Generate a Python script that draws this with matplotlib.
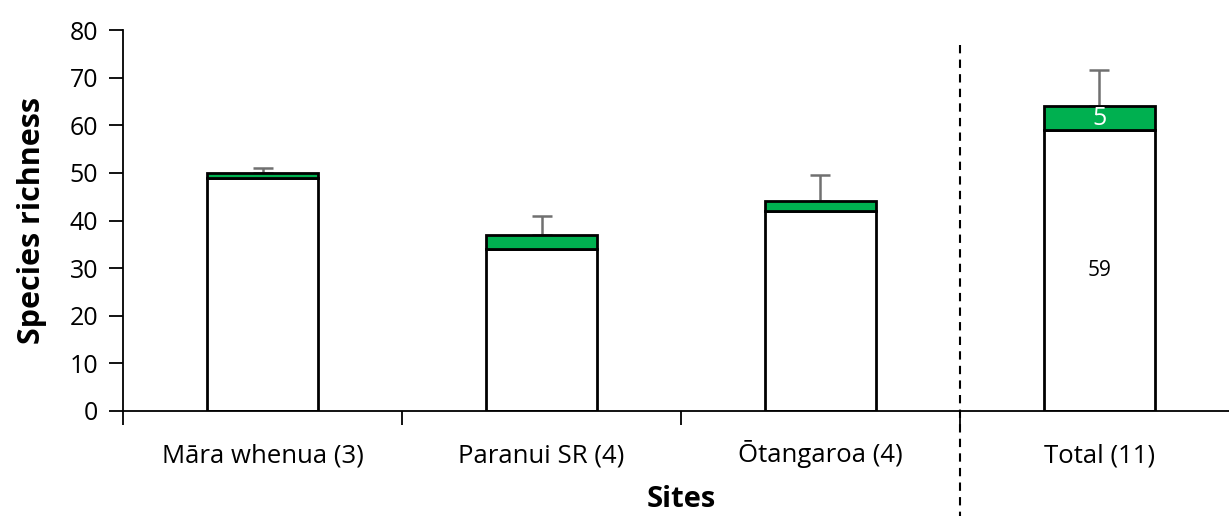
import numpy as np
import matplotlib.pyplot as plt

plt.rcParams['font.family'] = ['Open Sans', 'DejaVu Sans']

# Species richness per site: shared species (white) and unique species (green)
sites = ['Māra whenua (3)', 'Paranui SR (4)', 'Ōtangaroa (4)', 'Total (11)']
shared = [49, 34, 42, 59]
unique = [1, 3, 2, 5]
err_up = [1.0, 4.0, 5.5, 7.7]

green = '#00B050'
x = np.arange(len(sites))
totals = np.array(shared) + np.array(unique)

fig = plt.figure(figsize=(12.29, 5.16), dpi=100)
ax = fig.add_axes([123 / 1229, 105 / 516, 1116 / 1229, 381 / 516])

ax.bar(x, shared, width=0.4, color='white', edgecolor='black', linewidth=2, zorder=2)
ax.bar(x, unique, width=0.4, bottom=shared, color=green, edgecolor='black', linewidth=2, zorder=2)
ax.errorbar(x, totals, yerr=[np.zeros(len(x)), err_up], fmt='none', ecolor='#707070',
            elinewidth=1.8, capsize=7, capthick=1.8, zorder=1)

# value labels on the total bar
ax.text(x[3], shared[3] / 2, str(shared[3]), ha='center', va='center', fontsize=15, color='black')
ax.text(x[3], shared[3] + unique[3] / 2, str(unique[3]), ha='center', va='center', fontsize=18, color='white')

ax.set_xlim(-0.5, 3.5)
ax.set_ylim(0, 80)
ax.set_yticks(np.arange(0, 81, 10))
ax.tick_params(axis='y', labelsize=18, length=10, width=1.3, pad=8)

ax.set_xticks(x)
ax.set_xticklabels(sites, fontsize=18.5, va='baseline')
ax.tick_params(axis='x', length=0, pad=37)
ax.set_xticks(np.arange(-0.5, 3.6, 1), minor=True)
ax.tick_params(axis='x', which='minor', length=10, width=1.3)

for side in ['top', 'right']:
    ax.spines[side].set_visible(False)
ax.spines['left'].set_linewidth(1.3)
ax.spines['bottom'].set_linewidth(1.3)

ax.set_ylabel('Species richness', fontsize=22, fontweight='bold', labelpad=16)
ax.set_xlabel('Sites', fontsize=21, fontweight='bold', labelpad=12)

# dashed separator between the sites and the total
ax.plot([2.5, 2.5], [0.96, -0.28], transform=ax.get_xaxis_transform(), color='black',
        linestyle=(0, (4, 3)), linewidth=1.5, clip_on=False)

fig.savefig('out.png', dpi=100)
